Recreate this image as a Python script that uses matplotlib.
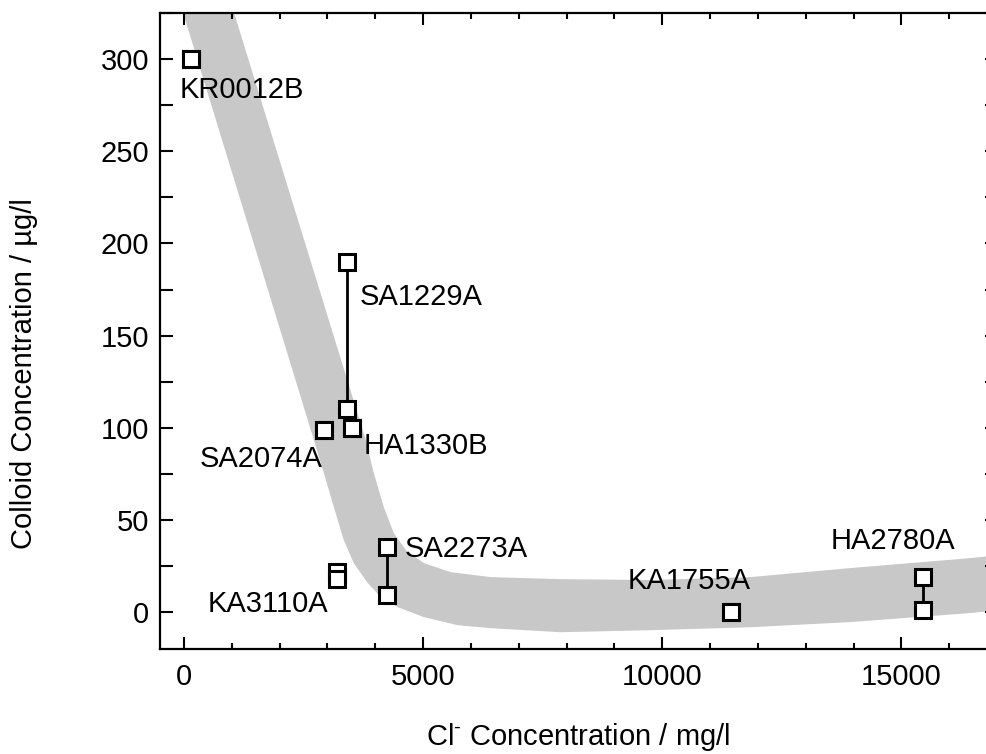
import matplotlib
matplotlib.use("Agg")
import matplotlib.pyplot as plt

plt.rcParams['font.family'] = ['Liberation Sans', 'DejaVu Sans']
plt.rcParams['mathtext.fontset'] = 'custom'
plt.rcParams['mathtext.rm'] = 'Liberation Sans'

# Trend band: lower/left edge and upper/right edge
band_lo_x = [-230, -21, 2716, 2925, 3133, 3342, 3551, 3844, 4115, 4470, 5014,
             5724, 6413, 7876, 9755, 11845, 13934, 16441, 17067]
band_lo_y = [343.5, 325.5, 93.5, 75.5, 57.1, 39.1, 26.6, 15.8, 8.2, 2.7, -2.7,
             -7.1, -8.7, -10.9, -9.8, -8.2, -5.4, -0.5, 1.1]
band_hi_x = [836, 1044, 3802, 3969, 4178, 4387, 4638, 5014, 5578, 6413, 7876,
             9755, 11845, 13934, 16441, 17067]
band_hi_y = [343.5, 325.5, 93.5, 75.5, 57.1, 42.9, 33.7, 26.6, 21.7, 19.0,
             17.9, 17.4, 19.0, 23.9, 29.3, 31.0]

# Samples
names = ['KR0012B', 'SA1229A', 'HA1330B', 'SA2074A', 'KA3110A', 'SA2273A',
         'KA1755A', 'HA2780A']
cl = [146, 3405, 3510, 2925, 3210, 4245, 11448, 15459]
colloid_hi = [300, 190, 100, 99, 22, 35.5, 0.2, 19]
colloid_lo = [300, 110, 100, 99, 18, 9.2, 0.2, 1]

# label anchors (data coords)
lab_x = [-84, 3682, 3766, 335, 502, 4623, 9268, 13515]
lab_y = [283, 171, 90, 83, 4.3, 34, 16.8, 38.6]

fig = plt.figure(figsize=(9.87, 7.54), dpi=100)
ax = fig.add_axes([160/987, 105/754, 837/987, 636/754])

poly_x = band_lo_x + band_hi_x[::-1]
poly_y = band_lo_y + band_hi_y[::-1]
ax.fill(poly_x, poly_y, color='#c8c8c8', lw=0, zorder=1)

for x, hi, lo in zip(cl, colloid_hi, colloid_lo):
    if hi != lo:
        ax.plot([x, x], [lo, hi], color='black', lw=2.0, zorder=2)
    ax.plot([x, x], [hi, lo], ls='none', marker='s', ms=12, mfc='white',
            mec='black', mew=2.2, zorder=3)

for n, x, y in zip(names, lab_x, lab_y):
    ax.text(x, y, n, fontsize=21, ha='left', va='center', zorder=4)

ax.set_xlim(-500, 17000)
ax.set_ylim(-20, 325)
ax.set_xticks([0, 5000, 10000, 15000])
ax.set_xticks(range(0, 17001, 1000), minor=True)
ax.set_yticks([0, 50, 100, 150, 200, 250, 300])
ax.set_yticks(range(0, 326, 25), minor=True)

ax.tick_params(axis='both', which='both', direction='in', top=True, right=True,
               width=1.5, labelsize=21)
ax.tick_params(axis='x', which='major', length=8.5, pad=10)
ax.tick_params(axis='x', which='minor', length=4.5)
ax.tick_params(axis='y', which='major', length=9, pad=8)
ax.tick_params(axis='y', which='minor', length=9)
for s in ax.spines.values():
    s.set_linewidth(1.6)

ax.set_xlabel(r'Cl$^{\text{-}}$ Concentration / mg/l', fontsize=21)
ax.set_ylabel('Colloid Concentration / µg/l', fontsize=21)
ax.xaxis.set_label_coords(0.5, -0.113)
ax.yaxis.set_label_coords(-0.1455, 0.4324)

fig.savefig('out.png', dpi=100)
